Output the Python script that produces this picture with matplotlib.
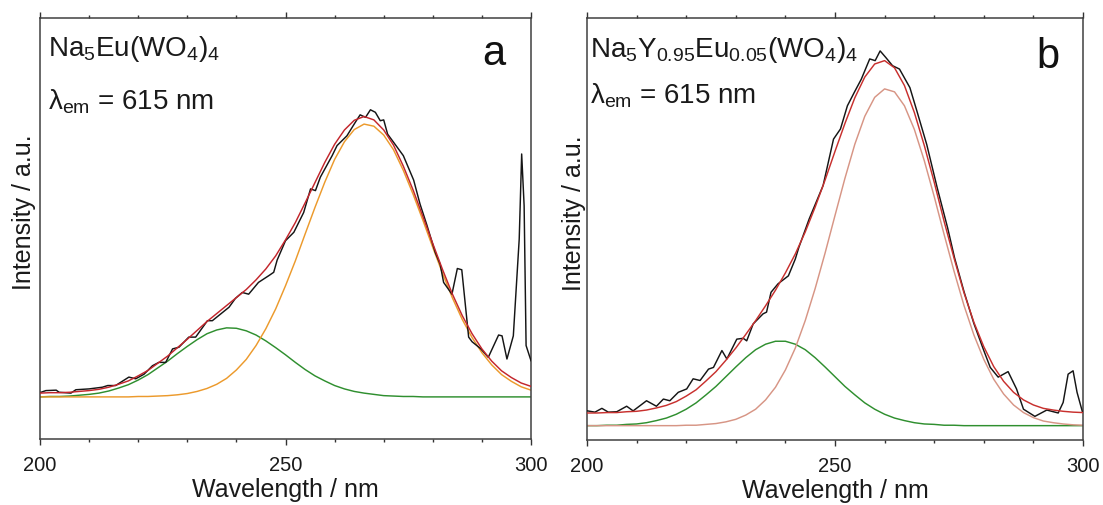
import numpy as np
import matplotlib
matplotlib.use("Agg")
import matplotlib.pyplot as plt
from matplotlib.ticker import MultipleLocator

plt.rcParams['font.family'] = ['Liberation Sans', 'DejaVu Sans']
plt.rcParams['mathtext.fontset'] = 'custom'
plt.rcParams['mathtext.rm'] = 'Liberation Sans'
plt.rcParams['mathtext.it'] = 'Liberation Sans:italic'
plt.rcParams['mathtext.bf'] = 'Liberation Sans:bold'

# ---------------- data ----------------
# common wavelength grid of the fitted curves (nm)
wl_fit = np.arange(200, 301, 2)

# Panel a : Na5Eu(WO4)4  (normalised intensity)
a_meas_wl = [200.2, 201.2, 203.3, 203.9, 206.3, 207.3, 210.0, 212.7, 213.8, 215.4,
             218.1, 219.5, 221.2, 222.9, 224.2, 225.6, 227.0, 228.3, 230.3, 231.7,
             234.1, 235.1, 238.5, 239.8, 241.2, 242.5, 244.5, 246.6, 247.6, 248.3,
             250.0, 251.7, 253.7, 255.1, 256.1, 257.1, 259.5, 260.5, 262.5, 264.2,
             265.2, 266.3, 267.3, 268.3, 269.3, 270.0, 270.8, 272.0, 274.0, 276.1,
             277.4, 278.8, 280.5, 281.5, 282.2, 283.9, 285.0, 285.9, 287.3, 288.0,
             289.7, 291.3, 293.4, 294.1, 295.1, 296.4, 297.6, 298.1, 298.6, 299.0,
             300.0]
a_meas_int = [0.111, 0.115, 0.116, 0.111, 0.109, 0.117, 0.119, 0.123, 0.127, 0.127,
              0.147, 0.143, 0.154, 0.174, 0.182, 0.182, 0.214, 0.218, 0.242, 0.242,
              0.281, 0.281, 0.313, 0.334, 0.348, 0.344, 0.372, 0.388, 0.396, 0.425,
              0.471, 0.491, 0.538, 0.594, 0.590, 0.622, 0.673, 0.697, 0.720, 0.752,
              0.770, 0.764, 0.782, 0.776, 0.756, 0.758, 0.724, 0.705, 0.673, 0.615,
              0.558, 0.508, 0.443, 0.415, 0.372, 0.344, 0.405, 0.402, 0.242, 0.231,
              0.215, 0.194, 0.247, 0.245, 0.190, 0.245, 0.475, 0.677, 0.554, 0.222,
              0.186]
a_green = [0.100, 0.101, 0.101, 0.102, 0.104, 0.106, 0.109, 0.114, 0.121, 0.129,
           0.140, 0.153, 0.169, 0.185, 0.203, 0.220, 0.236, 0.250, 0.259, 0.264,
           0.263, 0.257, 0.247, 0.233, 0.217, 0.200, 0.182, 0.165, 0.150, 0.138,
           0.127, 0.119, 0.113, 0.109, 0.106, 0.103, 0.102, 0.101, 0.101, 0.100,
           0.100, 0.100, 0.100, 0.100, 0.100, 0.100, 0.100, 0.100, 0.100, 0.100,
           0.100]
a_orange = [0.100, 0.100, 0.100, 0.100, 0.100, 0.100, 0.100, 0.100, 0.100, 0.100,
            0.101, 0.101, 0.102, 0.103, 0.105, 0.108, 0.113, 0.120, 0.130, 0.144,
            0.164, 0.189, 0.222, 0.262, 0.309, 0.364, 0.423, 0.487, 0.550, 0.610,
            0.664, 0.706, 0.735, 0.748, 0.743, 0.722, 0.687, 0.638, 0.581, 0.519,
            0.455, 0.393, 0.335, 0.284, 0.241, 0.205, 0.176, 0.153, 0.137, 0.124,
            0.116]
a_sum = [0.109, 0.110, 0.110, 0.111, 0.113, 0.115, 0.118, 0.123, 0.130, 0.138,
         0.150, 0.163, 0.180, 0.197, 0.217, 0.237, 0.258, 0.279, 0.298, 0.317,
         0.336, 0.355, 0.378, 0.404, 0.435, 0.473, 0.514, 0.561, 0.609, 0.657,
         0.700, 0.734, 0.757, 0.766, 0.758, 0.734, 0.698, 0.648, 0.591, 0.528,
         0.464, 0.402, 0.344, 0.293, 0.250, 0.214, 0.185, 0.162, 0.146, 0.133,
         0.125]

# Panel b : Na5Y0.95Eu0.05(WO4)4
b_meas_wl = [200.1, 201.6, 203.0, 204.3, 206.0, 208.0, 209.3, 212.0, 214.0, 215.4,
             216.7, 218.4, 220.1, 221.4, 222.8, 224.5, 225.5, 227.2, 228.2, 230.2,
             231.5, 232.2, 233.5, 235.5, 236.2, 237.1, 238.5, 240.6, 242.0, 242.7,
             244.8, 247.6, 249.7, 251.1, 252.5, 253.9, 255.3, 257.0, 258.1, 259.1,
             260.2, 261.6, 263.0, 265.1, 266.5, 268.5, 270.6, 272.7, 274.1, 276.0,
             278.0, 280.0, 281.3, 282.9, 284.9, 286.6, 288.0, 290.3, 292.7, 295.0,
             296.0, 297.0, 298.0, 298.8, 299.9]
b_meas_int = [0.069, 0.066, 0.075, 0.066, 0.067, 0.080, 0.069, 0.093, 0.080, 0.097,
              0.093, 0.113, 0.121, 0.145, 0.141, 0.168, 0.172, 0.212, 0.192, 0.239,
              0.241, 0.235, 0.275, 0.299, 0.303, 0.350, 0.370, 0.389, 0.429, 0.456,
              0.524, 0.603, 0.713, 0.737, 0.792, 0.824, 0.855, 0.903, 0.899, 0.922,
              0.907, 0.887, 0.879, 0.835, 0.780, 0.700, 0.598, 0.503, 0.432, 0.352,
              0.276, 0.212, 0.172, 0.149, 0.162, 0.121, 0.073, 0.056, 0.071, 0.064,
              0.089, 0.156, 0.164, 0.113, 0.066]
b_green = [0.034, 0.034, 0.035, 0.035, 0.037, 0.038, 0.041, 0.046, 0.052, 0.061,
           0.073, 0.088, 0.107, 0.127, 0.150, 0.173, 0.195, 0.214, 0.227, 0.234,
           0.234, 0.227, 0.214, 0.195, 0.173, 0.150, 0.127, 0.107, 0.088, 0.073,
           0.061, 0.052, 0.046, 0.041, 0.038, 0.037, 0.035, 0.035, 0.034, 0.034,
           0.034, 0.034, 0.034, 0.034, 0.034, 0.034, 0.034, 0.034, 0.034, 0.034,
           0.034]
b_salmon = [0.034, 0.034, 0.034, 0.034, 0.034, 0.034, 0.034, 0.034, 0.034, 0.034,
            0.035, 0.035, 0.037, 0.039, 0.043, 0.049, 0.059, 0.073, 0.095, 0.125,
            0.166, 0.218, 0.283, 0.359, 0.443, 0.532, 0.620, 0.701, 0.767, 0.812,
            0.832, 0.825, 0.792, 0.736, 0.662, 0.577, 0.487, 0.400, 0.319, 0.249,
            0.191, 0.144, 0.109, 0.083, 0.065, 0.053, 0.045, 0.041, 0.038, 0.036,
            0.035]
b_sum = [0.064, 0.064, 0.065, 0.065, 0.067, 0.068, 0.071, 0.076, 0.082, 0.091,
         0.104, 0.119, 0.140, 0.162, 0.189, 0.218, 0.250, 0.283, 0.318, 0.355,
         0.396, 0.441, 0.493, 0.552, 0.616, 0.684, 0.750, 0.811, 0.860, 0.891,
         0.899, 0.882, 0.840, 0.776, 0.698, 0.611, 0.518, 0.431, 0.349, 0.279,
         0.221, 0.174, 0.139, 0.113, 0.095, 0.083, 0.075, 0.071, 0.068, 0.066,
         0.065]

x_ticks = [200, 250, 300]
x_label = "Wavelength / nm"
y_label = "Intensity / a.u."

# ---------------- figure ----------------
W, H = 1103, 506
fig = plt.figure(figsize=(W / 100, H / 100), dpi=100)
axa = fig.add_axes([40 / W, 66 / H, 491 / W, 421 / H])
axb = fig.add_axes([587 / W, 65 / H, 496 / W, 422 / H])

LW = 1.05
axa.plot(a_meas_wl, a_meas_int, color='#151515', lw=LW, zorder=3)
axa.plot(wl_fit, a_green, color='#2f8f2f', lw=LW, zorder=2)
axa.plot(wl_fit, a_orange, color='#ec9a2c', lw=LW, zorder=2)
axa.plot(wl_fit, a_sum, color='#c3262c', lw=LW, zorder=4)

axb.plot(b_meas_wl, b_meas_int, color='#151515', lw=LW, zorder=3)
axb.plot(wl_fit, b_green, color='#2f8f2f', lw=LW, zorder=2)
axb.plot(wl_fit, b_salmon, color='#d79585', lw=LW, zorder=2)
axb.plot(wl_fit, b_sum, color='#c8302e', lw=LW, zorder=4)

for ax in (axa, axb):
    ax.set_xlim(200, 300)
    ax.set_ylim(0, 1)
    ax.set_xticks(x_ticks)
    ax.xaxis.set_minor_locator(MultipleLocator(10))
    ax.set_yticks([])
    ax.tick_params(axis='x', which='both', direction='out', top=True, bottom=True,
                   labeltop=False, color='#333333', width=1.0)
    ax.tick_params(axis='x', which='major', length=4.5, pad=7, labelsize=14.5,
                   labelcolor='#1a1a1a')
    ax.tick_params(axis='x', which='minor', length=2.5)
    for s in ax.spines.values():
        s.set_color('#404040')
        s.set_linewidth(1.1)
    ax.set_xlabel(x_label, fontsize=18, color='#1a1a1a', labelpad=2)
    ax.set_ylabel(y_label, fontsize=18, color='#1a1a1a')

axa.yaxis.set_label_coords(-0.008, 0.54)
axb.yaxis.set_label_coords(-0.002, 0.54)

txt_kw = dict(fontsize=20, color='#1a1a1a', va='baseline', ha='left')
axa.text(0.016, 0.912, r'Na$_\mathregular{5}$Eu(WO$_\mathregular{4}$)$_\mathregular{4}$',
         transform=axa.transAxes, **txt_kw)
axa.text(0.016, 0.784, r'λ$_\mathregular{em}$ = 615 nm', transform=axa.transAxes, **txt_kw)
axa.text(0.925, 0.891, 'a', transform=axa.transAxes, fontsize=30, color='#111111',
         ha='center', va='baseline')

axb.text(0.006, 0.911,
         r'Na$_\mathregular{5}$Y$_\mathregular{0.95}$Eu$_\mathregular{0.05}$(WO$_\mathregular{4}$)$_\mathregular{4}$',
         transform=axb.transAxes, **txt_kw)
axb.text(0.006, 0.800, r'λ$_\mathregular{em}$ = 615 nm', transform=axb.transAxes, **txt_kw)
axb.text(0.929, 0.884, 'b', transform=axb.transAxes, fontsize=30, color='#111111',
         ha='center', va='baseline')

fig.savefig('out.png', dpi=100)
